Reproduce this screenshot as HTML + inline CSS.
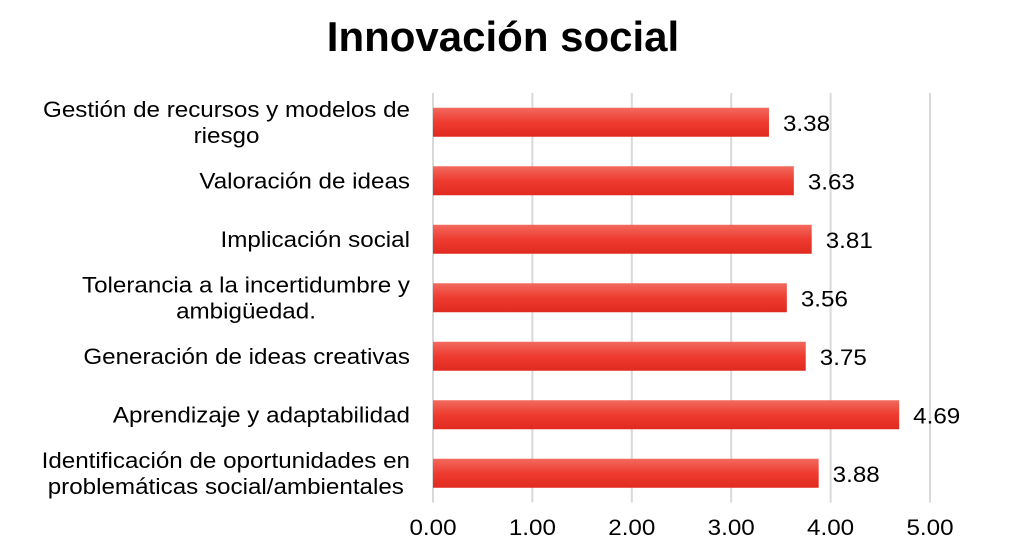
<!DOCTYPE html>
<html><head><meta charset="utf-8"><style>
body{margin:0;background:#fff;}
svg text{font-family:"Liberation Sans",sans-serif;}
</style></head><body>
<svg width="1023" height="546">
<defs><linearGradient id="g" x1="0" y1="0" x2="0" y2="1">
<stop offset="0" stop-color="#f26a5e"/><stop offset="0.5" stop-color="#ee3b30"/><stop offset="1" stop-color="#e02a1f"/></linearGradient></defs>
<text x="503" y="51" text-anchor="middle" font-size="42" font-weight="bold" fill="#000">Innovación social</text>
<g id="grid"></g><g id="bars"></g><g id="labels"></g>
</svg>
<script>
const categories=[["Gestión de recursos  y modelos de","riesgo"],["Valoración de ideas"],["Implicación social"],["Tolerancia a la incertidumbre y","ambigüedad."],["Generación de ideas creativas"],["Aprendizaje y adaptabilidad"],["Identificación de oportunidades en","problemáticas social/ambientales"]];
const values=[3.38,3.63,3.81,3.56,3.75,4.69,3.88];
const ticks=[0,1,2,3,4,5];
const tickLabels=["0.00","1.00","2.00","3.00","4.00","5.00"];
const NS="http://www.w3.org/2000/svg";
const x0=433,unit=99.4,plotTop=93,step=58.5,bh=29,SX=1.1,FS=22;
const X=v=>x0+v*unit, Y=i=>plotTop+step*(i+0.5);
function mk(t,a,p){const e=document.createElementNS(NS,t);for(const k in a)e.setAttribute(k,a[k]);p.appendChild(e);return e;}
function sc(ax){return `translate(${ax},0) scale(${SX},1) translate(${-ax},0)`;}
const grid=document.getElementById('grid'),bars=document.getElementById('bars'),labels=document.getElementById('labels');
ticks.forEach((t,i)=>{
 const l=mk('line',{x1:X(t),x2:X(t),y1:plotTop,y2:plotTop+step*7,stroke:'#d9d9d9','stroke-width':2},grid);
 
 
 const tx=mk('text',{x:X(t),y:535,'text-anchor':'middle','font-size':FS,fill:'#000',transform:sc(X(t))},labels);
 tx.textContent=tickLabels[i];
 
 
});
values.forEach((v,i)=>{
 const r=mk('rect',{x:x0,y:Y(i)-bh/2,width:X(v)-x0,height:bh,fill:'url(#g)'},bars);
 
 
 const vx=X(v)+14;
 const t=mk('text',{x:vx,y:Y(i)+9,'font-size':FS,fill:'#000',transform:sc(vx)},labels);
 t.textContent=v.toFixed(2);
 
 
 const lines=categories[i];
 const g=mk('g',{transform:sc(410)},labels);
 let center=null;
 lines.forEach((s,j)=>{
  const c=mk('text',{x:410,y:Y(i)+8+(j-(lines.length-1)/2)*26,'text-anchor':'end','font-size':FS,fill:'#000'},g);
  c.textContent=s;
  
  
  if(lines.length>1){
   if(j==0){center=410-c.getComputedTextLength()/2;}
   else{c.setAttribute('text-anchor','middle');c.setAttribute('x',center);}
  }
 });
});
</script>
</body></html>
